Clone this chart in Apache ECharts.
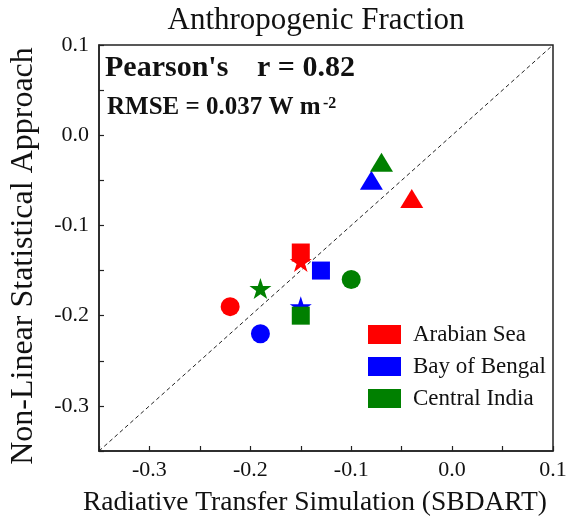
<!DOCTYPE html>
<html>
<head>
<meta charset="utf-8">
<script src="https://cdn.jsdelivr.net/npm/echarts@6/dist/echarts.min.js"></script>
<style>
  html, body { margin: 0; padding: 0; background: #fff; }
  #chart { width: 571px; height: 526px; }
</style>
</head>
<body>
<div id="chart"></div>
<script>
// Anthropogenic fraction: SBDART simulation (x) vs non-linear statistical approach (y)
const regions = ['Arabian Sea', 'Bay of Bengal', 'Central India'];
const regionColors = ['#ff0000', '#0000ff', '#008000'];

// marker shape for each point, same order in every region
const shapes = ['triangle', 'rect', 'star', 'circle'];

const arabianSeaX = [-0.04, -0.15, -0.15, -0.22];
const arabianSeaY = [-0.07, -0.13, -0.14, -0.19];
const bayOfBengalX = [-0.08, -0.13, -0.15, -0.19];
const bayOfBengalY = [-0.05, -0.15, -0.19, -0.22];
const centralIndiaX = [-0.07, -0.15, -0.19, -0.10];
const centralIndiaY = [-0.03, -0.20, -0.17, -0.16];

// 1:1 reference line
const oneToOneLine = [-0.35, 0.1];

const axisMin = -0.35;
const axisMax = 0.1;
const tickStep = 0.05;

const STAR = 'path://M50,0 L61.2,34.5 L97.6,34.5 L68.2,55.9 L79.4,90.5 L50,69.1 L20.6,90.5 L31.8,55.9 L2.4,34.5 L38.8,34.5 Z';
const symbolOf = {
  triangle: { symbol: 'triangle', size: [23, 19] },
  rect: { symbol: 'rect', size: [18, 18] },
  star: { symbol: STAR, size: [22, 21] },
  circle: { symbol: 'circle', size: [19, 19] }
};

const xs = [arabianSeaX, bayOfBengalX, centralIndiaX];
const ys = [arabianSeaY, bayOfBengalY, centralIndiaY];

const serif = '"Liberation Serif", "Times New Roman", serif';

const chart = echarts.init(document.getElementById('chart'), null, { renderer: 'canvas' });

function tickLabel(v) {
  const r = Math.round(v * 100);
  if (Math.abs(r) % 10 !== 0) return '';
  return (Math.round(v * 10) / 10).toFixed(1);
}

const scatterSeries = regions.map((name, i) => ({
  name: name,
  type: 'scatter',
  z: 3,
  itemStyle: { color: regionColors[i], opacity: 1 },
  data: xs[i].map((x, j) => ({
    value: [x, ys[i][j]],
    symbol: symbolOf[shapes[j]].symbol,
    symbolSize: symbolOf[shapes[j]].size
  }))
}));

const axisCommon = {
  type: 'value',
  min: axisMin,
  max: axisMax,
  interval: tickStep,
  splitLine: { show: false },
  axisLine: { show: true, onZero: false, lineStyle: { color: '#222', width: 1.5 } },
  axisTick: { show: true, inside: true, length: 5, lineStyle: { color: '#222', width: 1.2 } },
  axisLabel: {
    formatter: tickLabel,
    color: '#111',
    fontFamily: serif,
    fontSize: 22,
    showMinLabel: true,
    showMaxLabel: true
  }
};

chart.setOption({
  backgroundColor: '#fff',
  animation: false,
  title: {
    text: 'Anthropogenic Fraction',
    left: 311,
    textAlign: 'center',
    top: 0,
    textStyle: { fontFamily: serif, fontWeight: 'normal', fontSize: 31, color: '#111' }
  },
  grid: {
    left: 99, right: 18, top: 45, bottom: 75,
    show: true, borderColor: '#222', borderWidth: 1.5, backgroundColor: '#fff'
  },
  legend: {
    data: regions,
    orient: 'vertical',
    left: 368,
    top: 323,
    padding: 0,
    icon: 'rect',
    itemWidth: 33,
    itemHeight: 19,
    itemGap: 9,
    textStyle: { fontFamily: serif, fontSize: 23, color: '#111', padding: [0, 0, 0, 7] }
  },
  xAxis: Object.assign({}, axisCommon, {
    axisLabel: Object.assign({}, axisCommon.axisLabel, { margin: 8 })
  }),
  yAxis: Object.assign({}, axisCommon, {
    axisLabel: Object.assign({}, axisCommon.axisLabel, { margin: 10 })
  }),
  graphic: [
    {
      type: 'text', left: 105, top: 53,
      style: { text: "Pearson's", font: 'bold 30px ' + serif, fill: '#111' }
    },
    {
      type: 'text', left: 257, top: 53,
      style: { text: 'r = 0.82', font: 'bold 30px ' + serif, fill: '#111' }
    },
    {
      type: 'text', left: 107, top: 95,
      style: { text: 'RMSE = 0.037 W m', font: 'bold 25px ' + serif, fill: '#111' }
    },
    {
      type: 'text', left: 323, top: 96,
      style: { text: '-2', font: 'bold 16px ' + serif, fill: '#111' }
    },
    {
      type: 'text', x: 315, y: 517,
      style: {
        text: 'Radiative Transfer Simulation (SBDART)',
        font: '27.5px ' + serif, fill: '#111',
        textAlign: 'center', textVerticalAlign: 'bottom'
      }
    },
    {
      type: 'text', x: 24, y: 256, rotation: Math.PI / 2,
      style: {
        text: 'Non-Linear Statistical Approach',
        font: '32px ' + serif, fill: '#111',
        textAlign: 'center', textVerticalAlign: 'middle'
      }
    }
  ],
  series: [
    {
      name: '1:1',
      type: 'line',
      z: 2,
      symbol: 'none',
      silent: true,
      lineStyle: { color: '#222', width: 1, type: [4, 3] },
      data: [[oneToOneLine[0], oneToOneLine[0]], [oneToOneLine[1], oneToOneLine[1]]]
    }
  ].concat(scatterSeries)
});
</script>
</body>
</html>
